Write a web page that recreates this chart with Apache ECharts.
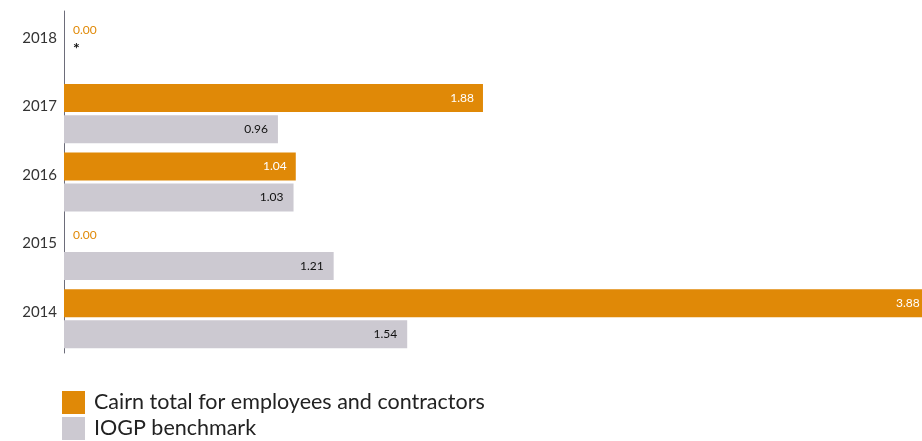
<!DOCTYPE html>
<html><head><meta charset="utf-8">
<script src="https://cdn.jsdelivr.net/npm/echarts@6/dist/echarts.min.js"></script>
<style>html,body{margin:0;padding:0;background:#fff}#c{width:922px;height:441px}</style>
</head><body><div id="c"></div>
<script>
const years = ['2018','2017','2016','2015','2014'];
const cairn = [0.00, 1.88, 1.04, 0.00, 3.88];
const iogp = [null, 0.96, 1.03, 1.21, 1.54];
const missingMark = '*';
const seriesNames = ['Cairn total for employees and contractors', 'IOGP benchmark'];

const ORANGE = '#E08907';
const GREY = '#CCC9D1';
const FONT = 'Lato';

const cairnData = cairn.map(v => v === 0 ? {
  value: 0,
  label: { position: 'right', distance: 9, color: ORANGE }
} : v);
const iogpData = iogp.map(v => v === null ? {
  value: 0,
  label: { position: 'right', distance: 9, offset: [0, -12], color: '#111', fontSize: 16, fontWeight: 'bold', formatter: missingMark }
} : v);

const chart = echarts.init(document.getElementById('c'), null, {renderer: 'canvas'});
chart.setOption({
  animation: false,
  textStyle: { fontFamily: FONT },
  grid: { left: 64, right: 0, top: 11, bottom: 88, containLabel: false },
  xAxis: { type: 'value', min: 0, max: 3.85, show: false },
  yAxis: {
    type: 'category', data: years, inverse: true,
    axisLine: { show: true, lineStyle: { color: '#6d6d7a', width: 1 } },
    axisTick: { show: false },
    axisLabel: { color: '#333', fontSize: 15, fontFamily: FONT, margin: 7, verticalAlign: 'bottom', lineHeight: 14 }
  },
  legend: {
    orient: 'vertical', left: 62, top: 391, padding: 0,
    itemWidth: 23, itemHeight: 23, itemGap: 3, icon: 'rect',
    data: seriesNames,
    textStyle: { fontSize: 21.5, color: '#222', fontFamily: FONT, padding: [0, 0, 0, 4] }
  },
  series: [
    {
      name: seriesNames[0], type: 'bar', data: cairnData,
      barWidth: 28, barGap: '11%', clip: false,
      itemStyle: { color: ORANGE },
      label: { show: true, position: 'insideRight', distance: 9, color: '#fff', fontSize: 12, fontFamily: FONT,
        formatter: p => Number(p.value).toFixed(2) }
    },
    {
      name: seriesNames[1], type: 'bar', data: iogpData,
      barWidth: 28, barGap: '11%', clip: false,
      itemStyle: { color: GREY },
      label: { show: true, position: 'insideRight', distance: 10, color: '#111', fontSize: 12, fontFamily: FONT,
        formatter: p => Number(p.value).toFixed(2) }
    }
  ]
});
</script></body></html>
